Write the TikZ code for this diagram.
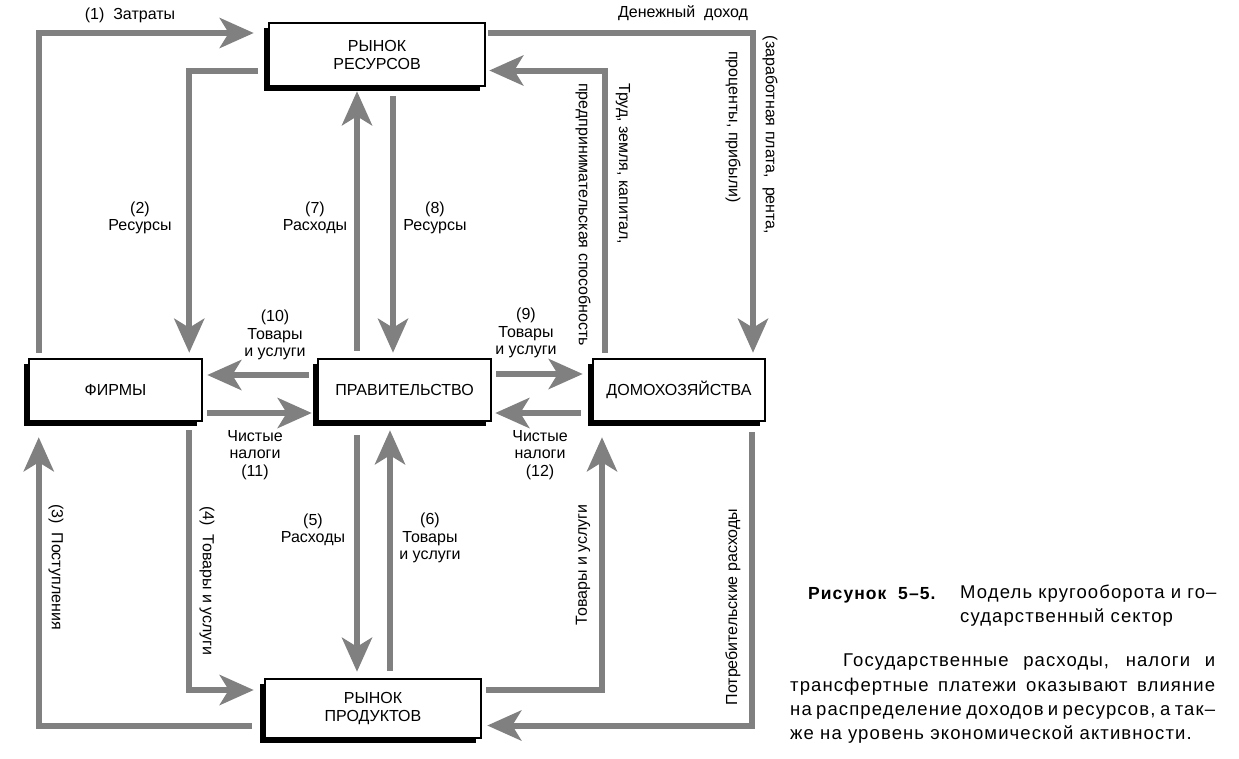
\documentclass[tikz,border=0pt]{standalone}
\usepackage{fontspec}
\setmainfont{Liberation Sans}
\newfontfamily\capfont[LetterSpace=6]{Liberation Sans}
\usetikzlibrary{arrows.meta,positioning,shadows}
\definecolor{flowgray}{RGB}{128,128,128}

\begin{document}
\begin{tikzpicture}[x=1pt, y=-1pt,
  box/.style={draw, line width=2.5pt, fill=white, align=center, inner sep=0pt, font=\fontsize{16}{18}\selectfont, general shadow={fill=black, shadow xshift=-5pt, shadow yshift=-5pt}},
  flow/.style={draw=flowgray, line width=6pt, -{Stealth[length=34pt, width=30pt, inset=9pt]}},
  lbl/.style={font=\fontsize{16}{17.5}\selectfont, align=center, inner sep=0pt}]
  \useasboundingbox (0,0) rectangle (1239,758);

  % Markets and sectors
  \node[box, minimum width=216pt, minimum height=63pt] (rr) at (377,54.5) {РЫНОК\\РЕСУРСОВ};
  \node[box, minimum width=216pt, minimum height=59pt] (pr) at (373,708.5) {РЫНОК\\ПРОДУКТОВ};
  \node[box, minimum width=173pt, minimum height=62pt] (fr) at (115.5,390) {ФИРМЫ};
  \node[box, minimum width=173pt, minimum height=62pt] (gov) at (404.5,390) {ПРАВИТЕЛЬСТВО};
  \node[box, minimum width=172pt, minimum height=62pt] (hh) at (679,390) {ДОМОХОЗЯЙСТВА};

  % Firms loop
  \draw[flow, shorten <=5pt, shorten >=14pt] ([xshift=11pt]fr.north west) |- ([yshift=21.5pt]rr.west);
  \draw[flow, shorten <=10pt, shorten >=5pt] ([yshift=-16pt]rr.west) -| ([xshift=-14pt]fr.north east);
  \draw[flow, shorten <=12pt, shorten >=15pt] ([yshift=-17pt]pr.west) -| ([xshift=11pt]fr.south west);
  \draw[flow, shorten <=8pt, shorten >=10pt] ([xshift=-14pt]fr.south east) |- ([yshift=18.5pt]pr.west);

  % Government flows
  \draw[flow, shorten <=13pt, shorten >=6pt] ([xshift=-47.5pt]gov.south) -- ([xshift=-16pt]pr.north);
  \draw[flow, shorten <=7pt, shorten >=8pt] ([xshift=17pt]pr.north) -- ([xshift=-14.5pt]gov.south);
  \draw[flow, shorten <=7pt, shorten >=4pt] ([xshift=-47.5pt]gov.north) -- ([xshift=-20pt]rr.south);
  \draw[flow, shorten <=9pt, shorten >=5pt] ([xshift=16pt]rr.south) -- ([xshift=-11.5pt]gov.north);
  \draw[flow, shorten <=4pt, shorten >=9pt] ([yshift=16pt]gov.east) -- ([yshift=16pt]hh.west);
  \draw[flow, shorten <=11pt, shorten >=3pt] ([yshift=-23pt]hh.west) -- ([yshift=-23pt]gov.east);
  \draw[flow, shorten <=8pt, shorten >=4pt] ([yshift=15pt]gov.west) -- ([yshift=15pt]fr.east);
  \draw[flow, shorten <=4pt, shorten >=5pt] ([yshift=-23pt]fr.east) -- ([yshift=-23pt]gov.west);

  % Households loop
  \draw[flow, shorten <=2pt, shorten >=5pt] ([yshift=21.5pt]rr.east) -| ([xshift=74pt]hh.north);
  \draw[flow, shorten <=5pt, shorten >=3pt] ([xshift=-74pt]hh.north) |- ([yshift=-16pt]rr.east);
  \draw[flow, shorten <=4pt, shorten >=15pt] ([yshift=18.5pt]pr.east) -| ([xshift=-77pt]hh.south);
  \draw[flow, shorten <=10pt, shorten >=5pt] ([xshift=73pt]hh.south) |- ([yshift=-17pt]pr.east);

  % Labels
  \node[lbl] (l1) at (130,15) {(1)~~Затраты};
  \node[lbl] (l2) at (140,218) {(2)\\Ресурсы};
  \node[lbl, rotate=-90] (l3) at (56,567) {(3)~~Поступления};
  \node[lbl, rotate=-90] (l4) at (207,581) {(4)~~Товары и услуги};
  \node[lbl] (l5) at (313,530) {(5)\\Расходы};
  \node[lbl] (l6) at (430,538) {(6)\\Товары\\и услуги};
  \node[lbl] (l7) at (315,218) {(7)\\Расходы};
  \node[lbl] (l8) at (435,218) {(8)\\Ресурсы};
  \node[lbl] (l9) at (526,333) {(9)\\Товары\\и услуги};
  \node[lbl] (l10) at (275,335) {(10)\\Товары\\и услуги};
  \node[lbl] (l11) at (255,455) {Чистые\\налоги\\(11)};
  \node[lbl] (l12) at (540,455) {Чистые\\налоги\\(12)};
  \node[lbl] (inc) at (683,13) {Денежный~~доход};
  \node[lbl, rotate=-90] (inc1) at (770,135) {(заработная плата,~~рента,};
  \node[lbl, rotate=-90] (inc2) at (733,127) {проценты, прибыли)};
  \node[lbl, rotate=-90, anchor=west] (fac1) at (623,83) {Труд, земля, капитал,};
  \node[lbl, rotate=-90, anchor=west] (fac2) at (583,83) {предпринимательская способность};
  \node[lbl, rotate=90] (gs) at (583,565) {Товары и услуги};
  \node[lbl, rotate=90] (cons) at (733,607) {Потребительские расходы};

  % Caption
  \node[anchor=north west, inner sep=0pt, font=\capfont\fontsize{17.5}{20}\selectfont\bfseries] (fig) at (808,587) {Рисунок~~5–5.};
  \node[anchor=north west, inner sep=0pt, align=left, font=\capfont\fontsize{18.5}{24}\selectfont] (title) at (960,585) {Модель кругооборота и го–\\сударственный сектор};
  \node[anchor=north west, inner sep=0pt, text width=425pt, align=justify, font=\capfont\fontsize{18.5}{24.3}\selectfont] (note) at (790,654) {\hspace*{53pt}Государственные расходы, налоги и\linebreak трансфертные платежи оказывают влияние\linebreak на распределение доходов и ресурсов, а так–\linebreak же на уровень экономической активности.};
\end{tikzpicture}
\end{document}
